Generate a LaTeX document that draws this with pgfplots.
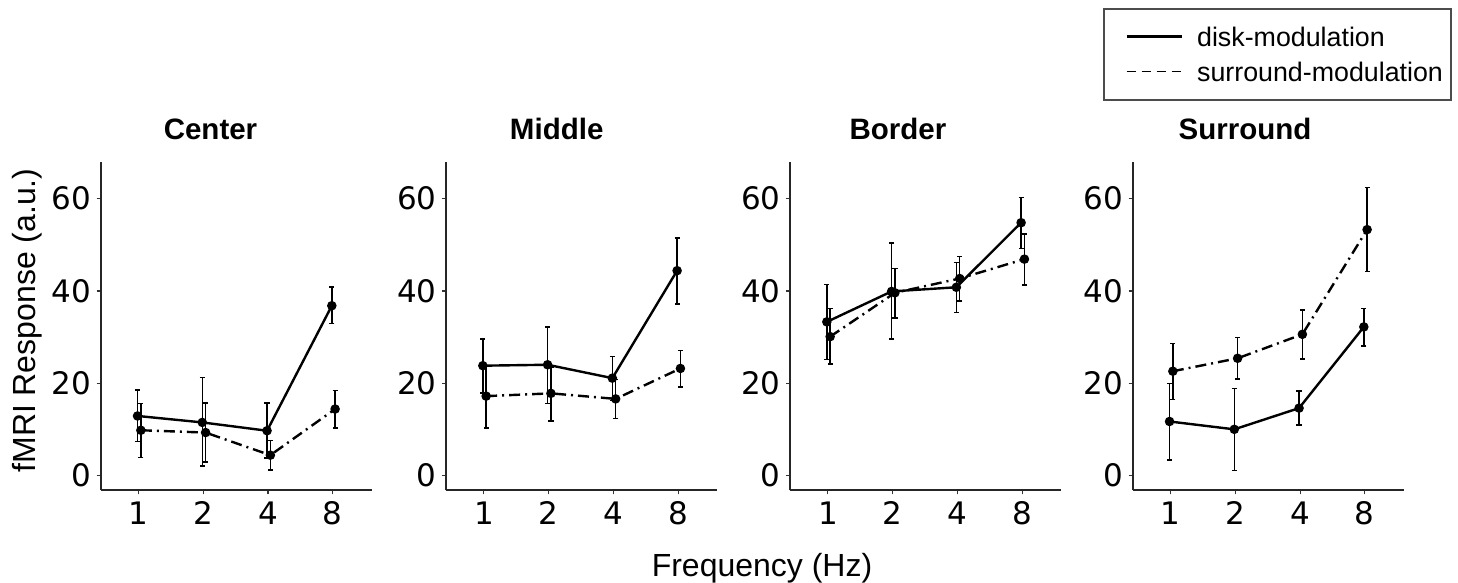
\documentclass[border=0pt]{standalone}
\usepackage{pgfplots}
\pgfplotsset{compat=1.18}
\usepackage{pgfplotstable}
\usepackage{fontspec}
\setmainfont{Liberation Sans}
\newfontfamily\dejavu{DejaVu Sans}

\pgfplotstableread{
x y lo hi
-0.016 12.9 7.4 18.5
0.984 11.5 2.0 21.2
1.984 9.7 3.8 15.7
2.984 36.8 32.9 40.9
}\diskA
\pgfplotstableread{
x y lo hi
0.035 9.8 3.9 15.6
1.035 9.3 2.9 15.7
2.035 4.4 1.2 7.6
3.035 14.4 10.3 18.4
}\surA
\pgfplotstableread{
x y lo hi
-0.016 23.8 17.9 29.6
0.984 24.0 15.6 32.2
1.984 21.1 16.3 25.8
2.984 44.4 37.2 51.5
}\diskB
\pgfplotstableread{
x y lo hi
0.035 17.2 10.3 23.7
1.035 17.8 11.8 23.5
2.035 16.6 12.4 20.8
3.035 23.2 19.2 27.1
}\surB
\pgfplotstableread{
x y lo hi
-0.016 33.3 25.1 41.4
0.984 39.9 29.6 50.4
1.984 40.8 35.3 46.2
2.984 54.8 49.2 60.3
}\diskC
\pgfplotstableread{
x y lo hi
0.035 30.1 24.2 36.2
1.035 39.6 34.1 44.9
2.035 42.7 37.8 47.5
3.035 46.9 41.3 52.4
}\surC
\pgfplotstableread{
x y lo hi
-0.016 11.7 3.4 19.9
0.984 10.0 1.1 18.8
1.984 14.6 10.9 18.3
2.984 32.2 28.1 36.2
}\diskD
\pgfplotstableread{
x y lo hi
0.035 22.6 16.5 28.6
1.035 25.4 20.9 29.9
2.035 30.6 25.2 35.9
3.035 53.3 44.2 62.4
}\surD

\pgfplotsset{
  panel/.style={
    width=135.5pt, height=164.25pt, scale only axis, anchor=south west,
    xmin=-0.585, xmax=3.6, ymin=-3.26, ymax=67.96,
    axis lines=left, axis line style={-, line width=1pt, black!85},
    xtick={0,1,2,3}, xticklabels={1,2,4,8}, ytick={0,20,40,60},
    tick align=outside, major tick length=2pt,
    tick style={line width=0.6pt, black!80},
    ticklabel style={font=\dejavu\fontsize{15.5}{18}\selectfont, text=black},
    yticklabel style={inner sep=2.5pt},
    xticklabel style={inner sep=3.5pt},
    /pgf/number format/assume math mode=true,
    clip=false,
  },
  errstyle/.style={
    error bars/.cd, y dir=both, y explicit,
    error bar style={line width=0.75pt, solid, black},
    error mark=|,
    error mark options={line width=0.75pt, mark size=1.3pt, solid, black},
  },
  disk/.style={black, line width=1.2pt, mark=*, mark size=1.75pt, mark options={solid}},
  sur/.style={black, line width=1.2pt, dash pattern=on 5.5pt off 2.5pt on 1pt off 2.5pt, mark=*, mark size=1.75pt, mark options={solid}},
}
\newcommand{\series}[2]{%
  \addplot[#1, errstyle] table[x=x, y=y, y error plus expr=\thisrow{hi}-\thisrow{y}, y error minus expr=\thisrow{y}-\thisrow{lo}] {#2};
}

\begin{document}
\begin{tikzpicture}
\useasboundingbox (0,0) rectangle (729pt,291.5pt);

\begin{axis}[panel, at={(50.35pt,46.25pt)}]
\series{disk}{\diskA}
\series{sur}{\surA}
\end{axis}
\begin{axis}[panel, at={(223pt,46.25pt)}]
\series{disk}{\diskB}
\series{sur}{\surB}
\end{axis}
\begin{axis}[panel, at={(395pt,46.25pt)}]
\series{disk}{\diskC}
\series{sur}{\surC}
\end{axis}
\begin{axis}[panel, at={(566.35pt,46.25pt)}]
\series{disk}{\diskD}
\series{sur}{\surD}
\end{axis}

% titles
\begin{scope}[every node/.style={font=\bfseries\fontsize{14.75}{17}\selectfont, anchor=base, inner sep=0pt}]
\node at (105.25pt,221.85pt) {Center};
\node at (278.35pt,221.85pt) {Middle};
\node at (449pt,221.85pt) {Border};
\node at (622.5pt,221.85pt) {Surround};
\end{scope}

% axis labels
\node[font=\fontsize{16}{19}\selectfont, anchor=base, inner sep=0pt] at (381pt,3pt) {Frequency (Hz)};
\node[font=\fontsize{16}{19}\selectfont, anchor=base, rotate=90, inner sep=0pt] at (17.5pt,131.25pt) {fMRI Response (a.u.)};

% legend
\draw[line width=1pt, black!70] (552pt,241.5pt) rectangle (725.35pt,286.85pt);
\draw[line width=1.35pt, black] (563.35pt,273.15pt) -- (590.85pt,273.15pt);
\draw[line width=0.8pt, black, dash pattern=on 4.5pt off 3pt] (563.35pt,255.65pt) -- (590.85pt,255.65pt);
\node[font=\fontsize{13.4}{16}\selectfont, anchor=base west, inner sep=0pt] at (598.35pt,268.15pt) {disk-modulation};
\node[font=\fontsize{13.4}{16}\selectfont, anchor=base west, inner sep=0pt] at (598.35pt,250.65pt) {surround-modulation};
\end{tikzpicture}
\end{document}
